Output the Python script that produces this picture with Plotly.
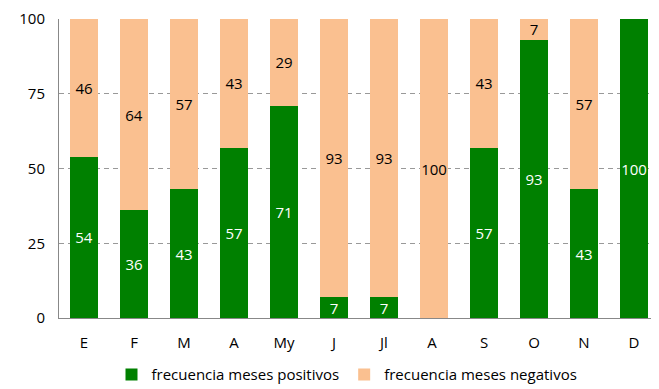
import plotly.graph_objects as go

meses = ["E", "F", "M", "A", "My", "J", "Jl", "A ", "S", "O", "N", "D"]
positivos = [54, 36, 43, 57, 71, 7, 7, 0, 57, 93, 43, 100]
negativos = [46, 64, 57, 43, 29, 93, 93, 100, 43, 7, 57, 0]
y_ticks = [0, 25, 50, 75, 100]

font = "Open Sans, Liberation Sans, sans-serif"

fig = go.Figure()
fig.add_trace(go.Bar(
    x=meses, y=positivos, name="frecuencia meses positivos",
    marker=dict(color="#008000", line=dict(width=0)),
    text=[str(v) if v else "" for v in positivos],
    textposition="inside", insidetextanchor="middle", textangle=0,
    constraintext="none",
    textfont=dict(color="white", size=15, family=font),
))
fig.add_trace(go.Bar(
    x=meses, y=negativos, name="frecuencia meses negativos",
    marker=dict(color="#FAC090", line=dict(width=0)),
    text=[str(v) if v else "" for v in negativos],
    textposition="inside", insidetextanchor="middle", textangle=0,
    constraintext="none",
    textfont=dict(color="black", size=15, family=font),
))
fig.update_layout(
    barmode="stack", bargap=0.45,
    width=651, height=381,
    margin=dict(l=51, r=0, t=11, b=71, autoexpand=False),
    paper_bgcolor="white", plot_bgcolor="white",
    font=dict(family=font, size=14, color="black"),
    uniformtext=dict(minsize=15, mode="show"),
    showlegend=True,
    legend=dict(orientation="h", x=0.48, xanchor="center", y=-0.135, yanchor="top",
                font=dict(size=15), itemwidth=30, traceorder="normal"),
    xaxis=dict(showline=True, linecolor="#888888", linewidth=1, ticks="",
               tickfont=dict(size=15), ticklabelstandoff=11),
    yaxis=dict(range=[0, 100], tickvals=y_ticks, showline=True, linecolor="#888888",
               linewidth=1, showgrid=True, gridcolor="#999999", griddash="5px,4px",
               ticks="", ticklabelstandoff=10, tickfont=dict(size=15), zeroline=False),
)
fig.write_html("out.html")
